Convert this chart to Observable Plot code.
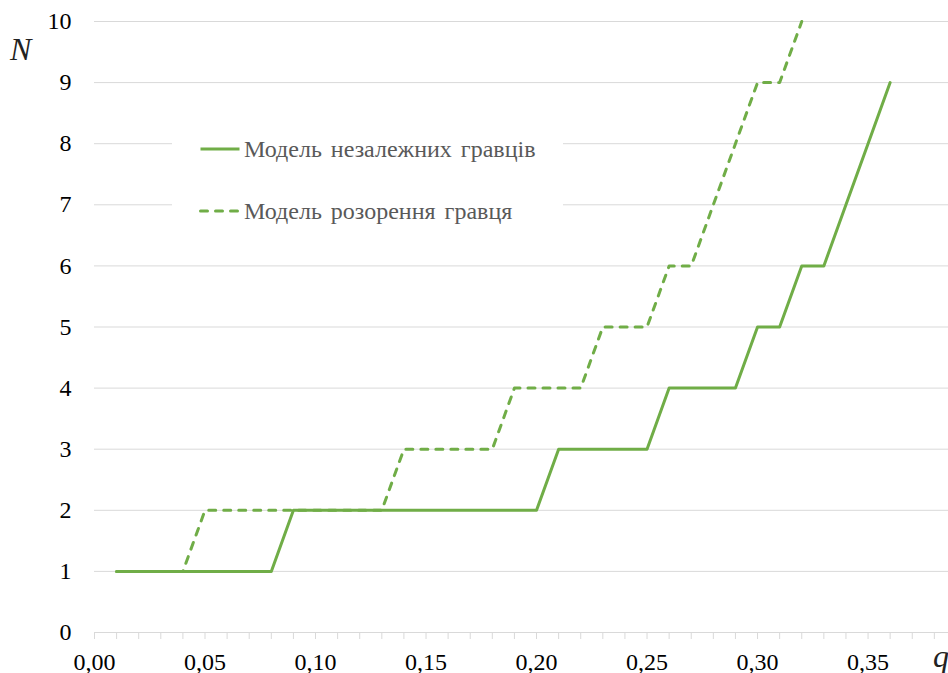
<!DOCTYPE html>
<html>
<head>
<meta charset="utf-8">
<script src="https://cdn.jsdelivr.net/npm/d3@7"></script>
<script src="https://cdn.jsdelivr.net/npm/@observablehq/plot@0.6"></script>
<style>
  body { margin: 0; background: #fff; }
  #wrap { position: relative; width: 948px; height: 673px; overflow: hidden; font-family: "Liberation Serif"; }
  .axlab { position: absolute; font-family: "Liberation Serif"; font-style: italic; font-size: 32px; color: #222; line-height: 1; }
  #legend { position: absolute; left: 172px; top: 118px; width: 391px; height: 118px; background: #fff; }
  .item { position: absolute; left: 27px; display: flex; align-items: center; font-family: "Liberation Serif"; font-size: 24px; color: #595959; word-spacing: 3px; white-space: nowrap; line-height: 1; }
  .item svg { margin-right: 3px; }
</style>
</head>
<body>
<div id="wrap"></div>
<script>
// Data
const qIndependent = [0.01,0.02,0.03,0.04,0.05,0.06,0.07,0.08,0.09,0.10,0.11,0.12,0.13,0.14,0.15,0.16,0.17,0.18,0.19,0.20,0.21,0.22,0.23,0.24,0.25,0.26,0.27,0.28,0.29,0.30,0.31,0.32,0.33,0.34,0.35,0.36];
const nIndependent = [1,1,1,1,1,1,1,1,2,2,2,2,2,2,2,2,2,2,2,2,3,3,3,3,3,4,4,4,4,5,5,6,6,7,8,9];
const qRuin = [0.01,0.02,0.03,0.04,0.05,0.06,0.07,0.08,0.09,0.10,0.11,0.12,0.13,0.14,0.15,0.16,0.17,0.18,0.19,0.20,0.21,0.22,0.23,0.24,0.25,0.26,0.27,0.28,0.29,0.30,0.31,0.32];
const nRuin = [1,1,1,1,2,2,2,2,2,2,2,2,2,3,3,3,3,3,4,4,4,4,5,5,5,6,6,7,8,9,9,10];
const xTickLabels = [0,0.05,0.10,0.15,0.20,0.25,0.30,0.35];
const xTickText = ["0,00","0,05","0,10","0,15","0,20","0,25","0,30","0,35"];
const xMinorTicks = [0,0.01,0.02,0.03,0.04,0.05,0.06,0.07,0.08,0.09,0.10,0.11,0.12,0.13,0.14,0.15,0.16,0.17,0.18,0.19,0.20,0.21,0.22,0.23,0.24,0.25,0.26,0.27,0.28,0.29,0.30,0.31,0.32,0.33,0.34,0.35,0.36,0.37,0.38];
const yTicks = [0,1,2,3,4,5,6,7,8,9,10];
const yTickText = ["0","1","2","3","4","5","6","7","8","9","10"];
const seriesNames = ["Модель незалежних гравців", "Модель розорення гравця"];
const green = "#70AD47";
const serif = "Liberation Serif";

const indep = qIndependent.map((q, i) => ({q, n: nIndependent[i]}));
const ruin = qRuin.map((q, i) => ({q, n: nRuin[i]}));

const chart = Plot.plot({
  width: 948,
  height: 673,
  marginTop: 21,
  marginBottom: 41,
  marginLeft: 94,
  marginRight: 0,
  style: { fontFamily: serif, fontSize: "24px", background: "#fff", color: "#000" },
  x: { domain: [0, 0.3864], axis: null },
  y: { domain: [0, 10], axis: null },
  marks: [
    Plot.gridY(yTicks, { stroke: "#d9d9d9", strokeOpacity: 1 }),
    Plot.ruleX(xMinorTicks, { x: d => d, y1: 0, y2: 0, insetBottom: -7, stroke: "#d9d9d9" }),
    Plot.ruleY([0], { stroke: "#d9d9d9" }),
    Plot.text(xTickLabels, { x: d => d, y: () => 0, text: (d, i) => xTickText[i], textAnchor: "middle", lineAnchor: "bottom", dy: 37, fontSize: 24, fontFamily: serif, fill: "#000" }),
    Plot.text(yTicks, { y: d => d, text: (d, i) => yTickText[i], frameAnchor: "left", textAnchor: "end", dx: -23, fontSize: 24, fontFamily: serif, fill: "#000" }),
    Plot.line(ruin, { x: "q", y: "n", stroke: green, strokeWidth: 3, strokeDasharray: "7,8", strokeLinecap: "round", strokeLinejoin: "round" }),
    Plot.line(indep, { x: "q", y: "n", stroke: green, strokeWidth: 3, strokeLinejoin: "round" })
  ]
});

const wrap = document.getElementById("wrap");
wrap.appendChild(chart);

const N = document.createElement("div");
N.className = "axlab"; N.textContent = "N";
N.style.left = "10px"; N.style.top = "33px";
wrap.appendChild(N);
const Q = document.createElement("div");
Q.className = "axlab"; Q.textContent = "q";
Q.style.left = "933px"; Q.style.top = "640px";
wrap.appendChild(Q);

const legend = document.createElement("div");
legend.id = "legend";
const tops = [31, 93];
const dashes = [null, "7,8"];
seriesNames.forEach((name, i) => {
  const item = document.createElement("div");
  item.className = "item";
  item.style.top = (tops[i] - 12) + "px";
  item.innerHTML = `<svg width="42" height="6"><line x1="1.5" y1="3" x2="40.5" y2="3" stroke="${green}" stroke-width="3" ${dashes[i] ? `stroke-dasharray="${dashes[i]}" stroke-linecap="round"` : ""}/></svg><span>${name}</span>`;
  legend.appendChild(item);
});
wrap.appendChild(legend);
</script>
</body>
</html>
